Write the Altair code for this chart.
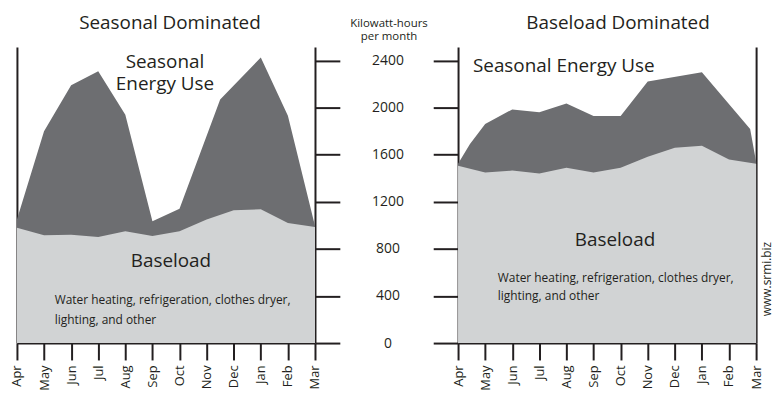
import altair as alt
import pandas as pd

FONT = "Open Sans"
INK = "#231f20"
DARK = "#6d6e71"
LIGHT = "#d1d3d4"

months = ["Apr", "May", "Jun", "Jul", "Aug", "Sep", "Oct", "Nov", "Dec", "Jan", "Feb", "Mar"]
month_idx = list(range(12))
y_ticks = [0, 400, 800, 1200, 1600, 2000, 2400]

# Seasonal dominated home
seasonal_total_x = [0, 1, 2, 3, 4, 5, 6, 7.5, 9, 10, 11]
seasonal_total_kwh = [1050, 1800, 2190, 2310, 1940, 1035, 1140, 2070, 2425, 1930, 995]
seasonal_base_kwh = [980, 915, 920, 900, 950, 910, 950, 1050, 1128, 1137, 1020, 985]

# Baseload dominated home
baseload_total_x = [0, 0.44, 1, 2, 3, 4, 5, 6, 7, 9, 10.78, 11]
baseload_total_kwh = [1524, 1690, 1860, 1985, 1960, 2035, 1928, 1928, 2223, 2300, 1819, 1540]
baseload_base_kwh = [1507, 1448, 1465, 1440, 1490, 1448, 1490, 1583, 1659, 1676, 1560, 1524]

W, H = 300, 298
yscale = alt.Scale(domain=[0, 2515], nice=False, zero=True)
xscale = alt.Scale(domain=[0, 11], nice=False)

label_expr = "[" + ",".join("'%s'" % m for m in months) + "][datum.value]"


def xaxis():
    return alt.Axis(values=month_idx, labelExpr=label_expr, labelAngle=270, tickSize=17,
                    labelPadding=5, labelFontSize=13, grid=False, title=None,
                    labelColor=INK, labelFont=FONT)


def label(text, x, y, size, align="center", line_height=None):
    kw = dict(font=FONT, fontSize=size, color=INK, align=align, baseline="alphabetic")
    if line_height is not None:
        kw["lineHeight"] = line_height
    return alt.Chart(pd.DataFrame({"k": [0]})).mark_text(text=text, **kw).encode(
        x=alt.value(x), y=alt.value(y))


def panel(total_x, total_kwh, base_kwh, left_axis, right_axis, texts):
    tot = pd.DataFrame({"x": total_x, "kwh": total_kwh})
    base = pd.DataFrame({"x": month_idx, "kwh": base_kwh})
    dark = alt.Chart(tot).mark_area(color=DARK, opacity=1, interpolate="linear").encode(
        x=alt.X("x:Q", scale=xscale, axis=xaxis()),
        y=alt.Y("kwh:Q", scale=yscale, stack=None, axis=left_axis),
    )
    light = alt.Chart(base).mark_area(color=LIGHT, opacity=1, interpolate="linear").encode(
        x=alt.X("x:Q", scale=xscale, axis=xaxis()),
        y=alt.Y("kwh:Q", scale=yscale, stack=None, axis=right_axis),
    )
    return alt.layer(dark, light, *texts).resolve_axis(y="independent").properties(
        width=W, height=H,
    )


left_panel = panel(
    seasonal_total_x, seasonal_total_kwh, seasonal_base_kwh,
    alt.Axis(orient="left", ticks=False, labels=False, title=None, grid=False),
    alt.Axis(orient="right", values=y_ticks, tickSize=25, labels=False, title=None, grid=False),
    [
        label("Seasonal Dominated", 154, -18.5, 19),
        label(["Seasonal", "Energy Use"], 149, 21, 19, line_height=22),
        label("Baseload", 155, 221, 19),
        label(["Water heating, refrigeration, clothes dryer,", "lighting, and other"], 38, 259, 12,
              align="left", line_height=19.5),
    ],
)

right_panel = panel(
    baseload_total_x, baseload_total_kwh, baseload_base_kwh,
    alt.Axis(orient="left", values=y_ticks, tickSize=25, labelPadding=46, labelAlign="center",
             format="d",
             labelFontSize=14, labelColor=INK, labelFont=FONT, grid=False,
             title=["Kilowatt-hours", "per month"], titleAngle=0, titleAlign="center",
             titleBaseline="alphabetic", titleX=-70, titleY=-20.5, titleFont=FONT,
             titleFontSize=11.5, titleFontWeight="normal", titleColor=INK, titleLineHeight=13),
    alt.Axis(orient="right", ticks=False, labels=False, grid=False,
             title="www.srmi.biz", titleAngle=270, titleAlign="center", titleBaseline="middle",
             titleX=10, titleY=233, titleFont=FONT, titleFontSize=12, titleFontWeight="normal",
             titleColor=INK),
    [
        label("Baseload Dominated", 161, -18.5, 19),
        label("Seasonal Energy Use", 15, 25, 19, align="left"),
        label("Baseload", 158, 200, 19),
        label(["Water heating, refrigeration, clothes dryer,", "lighting, and other"], 40, 237, 12,
              align="left", line_height=18),
    ],
)

chart = alt.hconcat(left_panel, right_panel, spacing=144, bounds="flush").properties(
    padding={"left": 3, "top": 4, "right": 0, "bottom": 0},
).configure_axis(
    domainColor=INK, domainWidth=2, tickColor=INK, tickWidth=2,
).configure_view(stroke=None)

chart.save("out.html", embed_options={"renderer": "svg", "actions": False})
